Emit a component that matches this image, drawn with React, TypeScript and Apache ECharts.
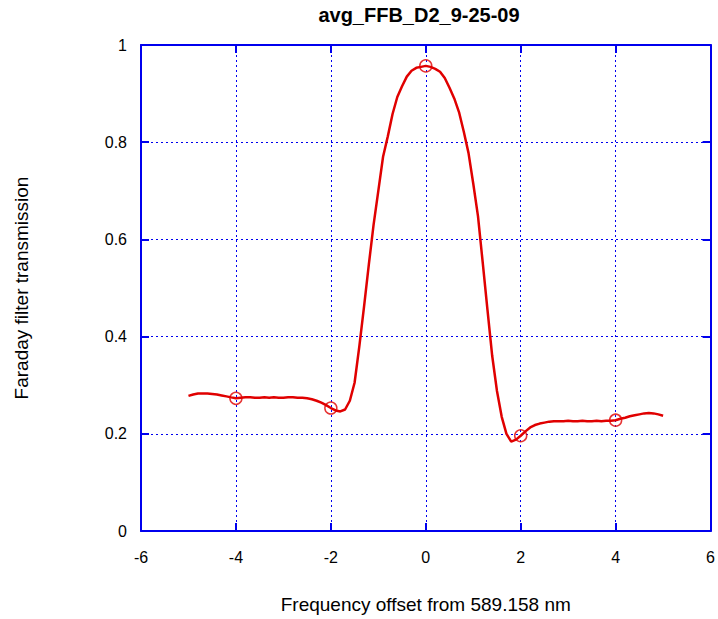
import React, { useEffect, useRef } from "react";
import * as echarts from "echarts";

const TITLE = "avg_FFB_D2_9-25-09";
const X_NAME = "Frequency offset from 589.158 nm";
const Y_NAME = "Faraday filter transmission";

const freqOffset = [
  -5.0, -4.9, -4.8, -4.7, -4.6, -4.5, -4.4, -4.3, -4.2, -4.1,
  -4.0, -3.9, -3.8, -3.7, -3.6, -3.5, -3.4, -3.3, -3.2, -3.1,
  -3.0, -2.9, -2.8, -2.7, -2.6, -2.5, -2.4, -2.3, -2.2, -2.1,
  -2.0, -1.9, -1.8, -1.7, -1.6, -1.5, -1.4, -1.3, -1.2, -1.1,
  -1.0, -0.9, -0.8, -0.7, -0.6, -0.5, -0.4, -0.3, -0.2, -0.1,
  0.0, 0.1, 0.2, 0.3, 0.4, 0.5, 0.6, 0.7, 0.8, 0.9,
  1.0, 1.1, 1.2, 1.3, 1.4, 1.5, 1.6, 1.7, 1.8, 1.9,
  2.0, 2.1, 2.2, 2.3, 2.4, 2.5, 2.6, 2.7, 2.8, 2.9,
  3.0, 3.1, 3.2, 3.3, 3.4, 3.5, 3.6, 3.7, 3.8, 3.9,
  4.0, 4.1, 4.2, 4.3, 4.4, 4.5, 4.6, 4.7, 4.8, 4.9, 5.0,
];

const transmission = [
  0.278, 0.281, 0.283, 0.283, 0.283, 0.282, 0.281, 0.279, 0.277, 0.275,
  0.273, 0.274, 0.275, 0.275, 0.274, 0.274, 0.275, 0.274, 0.275, 0.274,
  0.274, 0.275, 0.275, 0.274, 0.274, 0.273, 0.271, 0.268, 0.264, 0.259,
  0.253, 0.248, 0.246, 0.250, 0.268, 0.305, 0.380, 0.462, 0.548, 0.630,
  0.700, 0.770, 0.812, 0.858, 0.893, 0.915, 0.935, 0.947, 0.953, 0.955,
  0.957, 0.955, 0.951, 0.945, 0.932, 0.912, 0.890, 0.862, 0.822, 0.778,
  0.715, 0.648, 0.552, 0.455, 0.360, 0.288, 0.235, 0.200, 0.184, 0.188,
  0.196, 0.205, 0.213, 0.218, 0.221, 0.223, 0.225, 0.226, 0.226, 0.226,
  0.227, 0.226, 0.226, 0.227, 0.226, 0.226, 0.227, 0.226, 0.227, 0.227,
  0.228, 0.231, 0.233, 0.236, 0.238, 0.240, 0.242, 0.243, 0.242, 0.240, 0.237,
];

const circleX = [-4, -2, 0, 2, 4];

const RED = "#e00000";
const BLUE = "#0000ee";

export default function App() {
  const ref = useRef<HTMLDivElement>(null);
  useEffect(() => {
    if (!ref.current) return;
    const chart = echarts.init(ref.current, undefined, { renderer: "svg" });
    const lineData = freqOffset.map((x, i) => [x, transmission[i]]);
    const circleData = circleX.map((cx) => {
      const i = freqOffset.findIndex((x) => Math.abs(x - cx) < 1e-6);
      return [cx, transmission[i]];
    });
    const font = "'Liberation Sans', Arial, sans-serif";
    chart.setOption({
      animation: false,
      backgroundColor: "#ffffff",
      textStyle: { fontFamily: font },
      title: {
        text: TITLE,
        left: 414,
        textAlign: "center",
        top: 0,
        textStyle: { fontFamily: font, fontSize: 20, fontWeight: "bold", color: "#000" },
      },
      grid: { left: 141, right: 5, top: 45, bottom: 86, containLabel: false },
      xAxis: [
        {
          type: "value",
          min: -6,
          max: 6,
          interval: 2,
          position: "bottom",
          name: X_NAME,
          nameLocation: "middle",
          nameGap: 64,
          nameTextStyle: { fontFamily: font, fontSize: 19, color: "#000" },
          axisLine: { show: true, onZero: false, lineStyle: { color: BLUE, width: 2 } },
          axisTick: { show: true, inside: true, length: 8, lineStyle: { color: BLUE, width: 2 } },
          axisLabel: { fontFamily: font, fontSize: 16, color: "#000", margin: 18 },
          splitLine: { show: true, lineStyle: { color: BLUE, type: [2, 3], width: 1 } },
        },
        {
          type: "value",
          min: -6,
          max: 6,
          interval: 2,
          position: "top",
          axisLine: { show: true, onZero: false, lineStyle: { color: BLUE, width: 2 } },
          axisTick: { show: true, inside: true, length: 8, lineStyle: { color: BLUE, width: 2 } },
          axisLabel: { show: false },
          splitLine: { show: false },
        },
      ],
      yAxis: [
        {
          type: "value",
          min: 0,
          max: 1,
          interval: 0.2,
          position: "left",
          name: Y_NAME,
          nameLocation: "middle",
          nameGap: 110,
          nameRotate: 90,
          nameTextStyle: { fontFamily: font, fontSize: 19, color: "#000" },
          axisLine: { show: true, onZero: false, lineStyle: { color: BLUE, width: 2 } },
          axisTick: { show: true, inside: true, length: 8, lineStyle: { color: BLUE, width: 2 } },
          axisLabel: { fontFamily: font, fontSize: 16, color: "#000", margin: 14 },
          splitLine: { show: true, lineStyle: { color: BLUE, type: [2, 3], width: 1 } },
        },
        {
          type: "value",
          min: 0,
          max: 1,
          interval: 0.2,
          position: "right",
          axisLine: { show: true, onZero: false, lineStyle: { color: BLUE, width: 2 } },
          axisTick: { show: true, inside: true, length: 8, lineStyle: { color: BLUE, width: 2 } },
          axisLabel: { show: false },
          splitLine: { show: false },
        },
      ],
      series: [
        {
          type: "line",
          data: lineData,
          showSymbol: false,
          symbol: "none",
          lineStyle: { color: RED, width: 2.5 },
          z: 3,
        },
        {
          type: "scatter",
          data: circleData,
          symbol: "circle",
          symbolSize: 12,
          itemStyle: { color: "rgba(0,0,0,0)", borderColor: RED, borderWidth: 1.5 },
          z: 4,
        },
      ],
    });
    return () => chart.dispose();
  }, []);
  return <div ref={ref} style={{ width: 718, height: 619, position: "absolute", left: 0, top: 0 }} />;
}
